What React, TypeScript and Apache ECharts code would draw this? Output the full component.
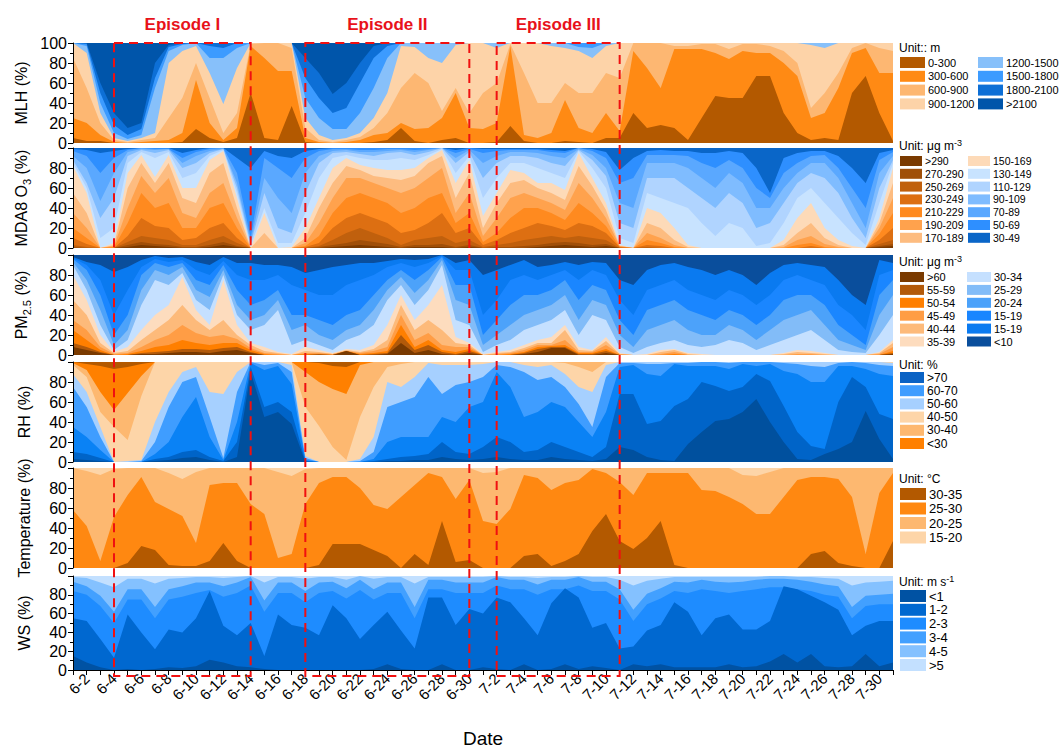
import React, { useEffect, useRef } from "react";
import * as echarts from "echarts";

const FONT = "Liberation Sans, Arial, sans-serif";

const dates = [
  "6-1","6-2","6-3","6-4","6-5","6-6","6-7","6-8","6-9","6-10",
  "6-11","6-12","6-13","6-14","6-15","6-16","6-17","6-18","6-19","6-20",
  "6-21","6-22","6-23","6-24","6-25","6-26","6-27","6-28","6-29","6-30",
  "7-1","7-2","7-3","7-4","7-5","7-6","7-7","7-8","7-9","7-10",
  "7-11","7-12","7-13","7-14","7-15","7-16","7-17","7-18","7-19","7-20",
  "7-21","7-22","7-23","7-24","7-25","7-26","7-27","7-28","7-29","7-30",
  "7-31",
];

const episodeNames = ["Episode I", "Episode II", "Episode III"];
const episodeStart = ["6-4", "6-18", "7-2"];
const episodeEnd = ["6-14", "6-30", "7-11"];

// ---------- MLH: cumulative share (%) of days below each class top ----------
const mlhLabels = ["0-300","300-600","600-900","900-1200","1200-1500","1500-1800","1800-2100",">2100"];
const mlhColors = ["#B35900","#FF8A14","#FDB772","#FDD3A8","#87C0FA","#3C9BFF","#0D6FD6","#0055AA"];
const mlhTo300 = [5,2,2,0,0,0,0,0,1,14, 5,1,5,50,5,3,37,1,0,0, 0,0,1,3,15,2,0,3,5,0, 0,1,17,2,0,0,2,1,0,5, 5,30,15,18,15,3,25,47,45,45, 67,67,30,10,3,5,3,50,67,30, 2];
const mlhTo600 = [25,20,8,1,0,1,2,3,10,63, 20,3,15,97,85,72,72,5,1,0, 1,3,8,10,20,14,15,25,50,15, 14,20,97,8,5,10,43,15,10,30, 12,92,75,55,94,94,94,90,84,92, 90,90,80,67,25,30,55,90,95,70, 70];
const mlhTo900 = [85,55,20,3,1,3,5,25,45,80, 45,10,30,99,100,100,95,15,3,1, 3,6,15,30,55,70,60,32,55,30, 50,60,99,70,40,40,60,50,50,70, 65,100,100,100,97,97,99,99,94,99, 99,97,92,80,35,50,70,95,100,95, 92];
const mlhTo1200 = [100,90,30,5,2,5,10,80,92,97, 70,39,75,100,100,100,100,25,8,3, 5,10,25,50,97,96,85,80,98,100, 100,95,100,100,100,97,95,92,85,97, 100,100,100,100,100,100,100,100,100,100, 100,100,100,100,98,95,100,100,100,100, 100];
const mlhTo1500 = [100,97,40,10,4,8,55,92,98,100, 85,85,95,100,100,100,100,45,25,14, 14,30,55,85,100,100,100,100,100,100, 100,100,100,100,100,100,100,96,95,100, 100,100,100,100,100,100,100,100,100,100, 100,100,100,100,100,100,100,100,100,100, 100];
const mlhTo1800 = [100,99,50,18,8,14,65,96,99,100, 97,95,100,100,100,100,100,65,45,30, 35,60,85,97,100,100,100,100,100,100, 100,100,100,100,100,100,100,100,100,100, 100,100,100,100,100,100,100,100,100,100, 100,100,100,100,100,100,100,100,100,100, 100];
const mlhTo2100 = [100,100,60,30,15,20,80,98,100,100, 100,100,100,100,100,100,100,85,70,49, 60,80,97,100,100,100,100,100,100,100, 100,100,100,100,100,100,100,100,100,100, 100,100,100,100,100,100,100,100,100,100, 100,100,100,100,100,100,100,100,100,100, 100];

// ---------- MDA8 O3 ----------
const o3Labels = [">290","270-290","250-269","230-249","210-229","190-209","170-189","150-169","130-149","110-129","90-109","70-89","50-69","30-49"];
const o3Colors = ["#7A3A00","#A04F08","#C0600D","#DD6F12","#FF8A1F","#FFA24D","#FDBC80","#FDDAB8","#C8E3FF","#B0D4FF","#7FBCFF","#5AA8FF","#2E8FFF","#0A66C8"];
const o3B1 = [0,0,0,0,1,3,2,1,0,0, 1,3,1,0,0,0,0,0,0,1, 2,3,2,1,0,1,1,1,0,1, 0,0,0,0,1,2,3,2,1,2, 0,0,0,0,0,0,0,0,0,0, 0,0,0,0,0,0,0,0,0,1, 2];
const o3B2 = [1,0,0,0,3,6,4,3,1,1, 3,6,2,0,0,0,0,0,1,3, 5,8,6,4,1,3,3,4,1,3, 0,1,1,2,3,5,6,5,3,4, 0,0,0,0,0,0,0,0,0,0, 0,0,0,0,0,0,0,0,0,2, 4];
const o3B3 = [3,1,0,0,6,12,10,8,3,3, 8,12,5,0,0,0,0,0,2,8, 15,20,15,10,3,8,10,12,5,8, 1,3,5,8,10,12,10,12,10,8, 0,0,1,0,0,0,0,0,0,0, 0,0,0,0,0,0,0,0,0,4, 8];
const o3B4 = [10,4,0,0,12,30,22,20,8,10, 20,25,10,0,0,0,0,1,5,20, 30,35,30,25,15,18,25,35,15,20, 3,8,15,20,25,22,18,25,22,15, 1,0,3,2,0,0,0,0,0,0, 0,0,0,0,2,0,0,0,0,8, 20];
const o3B5 = [20,10,0,1,25,55,40,45,20,20, 40,45,20,0,0,0,0,2,12,35, 50,55,50,45,35,40,50,55,25,35, 6,15,30,40,40,35,28,45,35,22, 1,0,8,5,1,0,0,0,0,0, 0,0,0,3,5,1,0,0,0,14, 35];
const o3B6 = [35,20,0,2,40,72,55,70,35,30, 55,65,30,0,0,0,0,5,25,50, 70,70,65,60,55,60,70,80,35,55, 12,30,50,55,50,45,38,65,50,30, 2,0,15,10,3,0,0,0,0,0, 0,0,1,8,12,4,1,0,0,20, 50];
const o3B7 = [55,35,0,3,60,85,65,85,50,45, 75,85,40,0,15,0,0,10,40,65, 82,78,72,70,68,72,85,92,50,75, 20,45,65,68,60,55,48,82,62,38, 2,0,25,20,8,1,0,0,0,0, 0,0,3,15,25,10,3,0,0,25, 65];
const o3B8 = [82,55,0,5,75,93,71,93,60,60, 88,97,50,0,35,0,1,20,50,80, 90,83,80,78,78,80,90,98,65,88, 32,55,78,75,65,65,58,95,70,45, 3,0,40,35,20,3,0,0,0,0, 0,0,8,30,45,20,8,2,0,30, 80];
const o3B9 = [85,60,10,20,85,96,90,96,70,75, 92,98,55,2,40,5,5,35,70,90, 93,90,88,88,90,88,93,99,75,92, 50,70,85,85,80,75,70,97,80,60, 10,5,55,50,45,40,25,12,25,20, 2,5,25,50,60,45,30,15,3,45, 85];
const o3B10 = [88,65,30,50,92,98,95,98,80,85, 95,99,60,4,55,20,15,55,85,95, 96,94,92,95,96,93,96,100,85,96, 70,85,92,92,90,85,82,98,88,72, 25,20,70,70,70,60,50,40,55,45, 20,25,45,65,75,70,55,30,10,60, 88];
const o3B11 = [92,80,47,75,96,99,98,99,85,92, 97,99,65,6,70,50,35,75,92,97, 98,96,96,97,98,96,98,100,90,98, 85,92,96,96,95,92,90,99,93,80, 45,40,85,85,85,80,70,60,75,65, 40,40,60,75,85,85,70,45,20,75, 92];
const o3B12 = [97,92,75,90,98,100,99,99,90,96, 99,100,75,10,90,80,70,90,97,99, 99,98,98,99,99,98,99,100,95,99, 95,97,98,98,98,96,95,100,97,90, 65,70,93,93,93,92,85,80,88,80, 60,50,75,85,92,93,80,60,40,88, 96];
const o3B13 = [99,98,95,97,99,100,100,100,95,98, 100,100,90,80,97,92,90,97,99,100, 100,100,100,100,100,100,100,100,98,100, 99,99,99,99,99,98,97,100,99,96, 78,90,97,98,97,97,95,95,97,95, 80,55,90,95,97,97,92,80,65,95, 98];

// ---------- PM2.5 ----------
const pmLabels = [">60","55-59","50-54","45-49","40-44","35-39","30-34","25-29","20-24","15-19","15-19","<10"];
const pmColors = ["#7A3A00","#B35A0A","#FF7F00","#FF9D45","#FDBA7A","#FDDCBE","#C5E0FF","#82BCF8","#4CA2FA","#1A86FF","#0A7AF0","#0A4E9C"];
const pmB1 = [8,5,2,0,0,1,1,2,3,3, 2,4,5,2,0,0,0,0,0,0, 4,0,0,1,12,2,5,1,0,2, 0,0,0,1,3,7,7,0,0,2, 0,0,0,0,0,0,0,0,0,0, 0,0,0,0,0,0,0,0,0,0, 1];
const pmB2 = [12,8,3,0,0,2,3,4,6,6, 5,7,8,3,0,0,0,0,1,0, 4,0,1,2,20,5,10,3,1,4, 0,0,0,2,6,8,8,1,1,4, 0,0,0,0,0,0,0,0,0,0, 0,0,0,0,0,0,0,0,0,0, 2];
const pmB3 = [25,15,5,0,1,4,8,10,15,12, 10,12,12,5,1,0,0,1,1,0, 4,1,2,4,30,8,15,5,3,6, 0,0,1,3,8,9,10,2,2,6, 0,0,0,0,1,0,0,0,0,0, 0,0,0,0,0,0,0,0,0,0, 4];
const pmB4 = [35,25,8,1,2,8,15,20,30,22, 18,20,16,7,2,1,0,2,2,1, 4,2,4,8,40,15,22,10,8,8, 0,1,2,5,10,10,15,3,3,10, 1,0,0,1,3,0,0,0,0,0, 0,0,0,1,1,0,0,0,0,1, 8];
const pmB5 = [55,40,12,2,4,15,25,35,50,35, 25,35,20,10,4,2,0,4,3,1, 5,3,6,15,50,25,35,25,12,10, 0,2,3,7,12,12,25,5,4,14, 1,0,0,3,5,1,0,0,0,0, 0,0,1,3,2,1,0,0,0,2, 12];
const pmB6 = [80,55,20,3,8,25,40,50,78,45, 30,75,30,12,8,3,1,8,5,2, 6,5,10,30,60,35,50,70,18,12, 1,3,5,10,15,18,30,8,5,18, 2,0,1,5,6,2,1,0,0,0, 0,0,2,5,4,2,0,0,0,3, 15];
const pmB7 = [90,65,30,5,15,50,75,70,82,55, 45,80,40,25,30,45,10,15,10,5, 15,20,30,55,70,50,65,90,35,30, 3,10,15,25,30,35,45,20,40,35, 8,2,8,12,15,10,8,10,15,12, 5,10,15,20,25,15,5,3,2,20, 40];
const pmB8 = [93,75,45,10,25,65,85,80,88,65, 58,85,50,35,40,55,25,30,20,15, 25,30,45,65,78,62,75,95,55,50, 10,20,30,40,45,50,60,35,55,50, 20,8,25,30,35,25,20,20,30,25, 15,25,35,40,45,30,15,10,5,40, 60];
const pmB9 = [96,85,60,20,40,80,92,88,92,75, 70,90,65,50,55,65,40,40,35,30, 40,45,60,75,85,75,85,98,70,70, 20,35,50,60,60,65,75,55,70,65, 35,20,45,50,55,45,40,35,45,40, 30,40,55,60,60,50,30,20,10,60, 75];
const pmB10 = [97,90,75,40,65,88,96,93,95,85, 80,94,80,75,75,80,70,65,60,60, 70,75,80,88,92,88,92,99,85,85, 40,55,75,80,75,80,85,75,85,80, 55,40,65,70,75,65,60,55,65,60, 50,60,75,80,75,70,50,40,25,80, 85];
const pmB11 = [98,93,90,83,88,95,99,97,98,93, 90,98,92,92,90,90,88,82,85,88, 90,92,92,94,96,95,96,100,92,95, 80,85,90,95,88,90,93,90,93,92, 75,70,85,90,92,88,85,80,85,80, 70,82,90,92,90,88,75,60,50,95, 92];

// ---------- RH ----------
const rhLegendLabels = [">70","60-70","50-60","40-50","30-40","<30"];
const rhLegendColors = ["#0A62C4","#3F9DFF","#A6D0FF","#FDD5A8","#FDB870","#FF8000"];
const rhColors = ["#00509E","#0064C8","#0A82F5","#3F9DFF","#A6D0FF","#FDD5A8","#FDB870","#FF8000","#B35900"];
const rhR1 = [3,2,1,0,0,0,1,2,4,5, 2,0,5,90,45,50,38,0,0,0, 0,0,0,1,1,2,2,5,3,2, 3,5,3,2,2,5,3,2,1,3, 15,12,5,2,1,18,30,41,43,50, 63,40,20,3,2,8,13,20,51,23, 3];
const rhR2 = [10,8,4,0,0,0,3,5,10,12, 5,1,20,95,55,60,50,1,0,0, 0,0,1,3,5,6,8,20,10,8, 15,25,20,10,12,20,15,10,5,15, 68,68,38,41,56,63,80,76,71,75, 88,81,56,30,16,13,60,85,75,48, 43];
const rhR3 = [35,25,12,0,0,0,8,20,45,65, 25,2,40,99,92,96,78,2,0,0, 0,0,3,20,25,25,25,45,40,55, 60,90,75,45,50,60,55,40,25,50, 95,97,88,86,98,96,96,96,93,98, 96,98,91,88,80,80,96,96,93,88, 86];
const rhR4 = [75,55,25,0,0,1,20,55,80,85, 45,4,70,100,97,99,90,4,0,0, 0,1,10,55,60,65,85,68,77,80, 85,97,95,90,82,85,75,58,35,85, 99,99,98,98,99,99,100,100,99,100, 100,100,99,98,96,95,99,100,99,97, 96];
const rhR5 = [88,70,35,0,1,2,40,70,90,95, 70,68,90,100,100,100,97,6,0,0, 0,3,25,80,75,85,99,97,97,97, 98,100,100,97,95,97,88,75,70,97, 100,100,100,100,100,100,100,100,100,100, 100,100,100,100,100,100,100,100,100,100, 99];
const rhR6 = [97,85,50,35,22,66,100,100,100,100, 100,100,100,100,100,100,100,55,36,15, 2,45,75,95,98,100,100,100,100,100, 100,100,100,100,100,100,99,95,90,100, 100,100,100,100,100,100,100,100,100,100, 100,100,100,100,100,100,100,100,100,100, 100];
const rhR7 = [99,92,70,52,69,86,100,100,100,100, 100,100,100,100,100,100,100,90,80,73, 68,97,100,100,100,100,100,100,100,100, 100,100,100,100,100,100,100,100,100,100, 100,100,100,100,100,100,100,100,100,100, 100,100,100,100,100,100,100,100,100,100, 100];
const rhR8 = [100,98,96,93,95,98,100,100,100,100, 100,100,100,100,100,100,100,100,99,96, 95,100,100,100,100,100,100,100,100,100, 100,100,100,100,100,100,100,100,100,100, 100,100,100,100,100,100,100,100,100,100, 100,100,100,100,100,100,100,100,100,100, 100];

// ---------- Temperature ----------
const tLabels = ["30-35","25-30","20-25","15-20"];
const tColors = ["#B35900","#FF8811","#FDB870","#FDD5A8"];
const t30 = [0,0,0,0,5,22,18,3,2,2, 7,25,7,0,0,0,0,0,3,24, 24,24,18,12,0,14,3,47,6,8, 0,0,0,12,14,2,7,14,37,54, 27,19,30,47,3,0,0,0,0,0, 0,0,0,0,14,17,5,2,0,0, 27];
const t25 = [58,42,7,51,73,91,66,59,52,25, 83,85,85,64,54,10,14,64,85,91, 91,80,63,59,71,83,95,91,69,88, 47,44,59,93,90,78,85,88,99,95, 86,73,95,95,95,95,78,77,71,64, 54,54,71,88,91,91,89,71,14,75, 95];
const t20 = [100,97,93,99,100,100,100,95,89,96, 100,100,100,100,100,96,92,99,100,100, 100,100,100,100,100,100,100,100,100,100, 95,96,100,100,100,100,100,100,100,100, 100,100,100,100,100,100,100,100,100,93, 92,96,100,100,100,100,100,100,100,100, 100];

// ---------- WS ----------
const wsLabels = ["<1","1-2","2-3","3-4","4-5",">5"];
const wsColors = ["#0052A3","#0068D0","#1E8CFF","#42A0FF","#84C1FF","#C3E0FF"];
const ws1 = [15,8,3,0,1,0,1,3,2,4, 11,8,4,3,1,0,0,0,0,0, 0,0,1,6,1,0,0,6,0,0, 3,1,0,6,0,1,6,1,4,2, 0,6,4,6,3,3,3,3,6,3, 4,9,17,8,17,4,3,4,17,4, 8];
const ws2 = [55,52,33,13,59,40,22,43,40,55, 84,47,37,50,15,59,48,45,37,69, 55,33,48,62,42,23,77,77,48,65, 60,77,72,55,37,71,87,77,45,50, 23,25,42,48,72,62,37,55,59,43, 43,52,89,86,79,72,64,37,47,52, 52];
const ws3 = [84,80,68,50,75,75,55,75,78,82, 85,78,82,90,62,82,82,72,82,84, 76,85,75,82,82,55,86,86,82,82, 82,90,86,86,80,86,86,90,84,84, 75,52,70,76,84,82,86,84,82,84, 86,88,88,86,84,80,78,55,68,70, 70];
const ws4 = [94,89,79,62,86,86,67,86,89,93, 93,89,93,99,74,93,93,84,93,94, 87,96,86,93,93,67,96,96,93,93, 93,99,96,96,91,96,96,99,94,94, 86,64,81,87,94,93,96,94,93,94, 96,97,97,96,94,91,89,67,79,80, 81];
const ws5 = [99,98,93,88,97,97,92,97,98,99, 99,98,99,100,93,99,99,97,99,99, 96,100,97,99,99,92,99,99,99,99, 99,100,99,99,98,99,99,100,99,99, 96,90,95,97,99,99,99,99,99,99, 99,100,100,99,99,98,97,90,93,94, 95];

const GRID_TOPS = [43, 148, 255, 362, 468, 576];
const GRID_H = 100;
const GRID_LEFT = 73;
const GRID_RIGHT = 166;

type LegendSpec = {
  title: string; titleY: number; rowTop: number; pitch: number;
  rectW: number; rectH: number; col2X: number; perCol: number; fontSize: number;
};

const panels = [
  {
    yName: "MLH (%)", colors: mlhColors,
    cum: [mlhTo300, mlhTo600, mlhTo900, mlhTo1200, mlhTo1500, mlhTo1800, mlhTo2100],
    legendLabels: mlhLabels, legendColors: mlhColors,
    legend: { title: "{a|Unit:: m}", titleY: 48, rowTop: 57, pitch: 13.8, rectW: 25, rectH: 11, col2X: 978, perCol: 4, fontSize: 11 } as LegendSpec,
    showMax: true,
  },
  {
    yName: "{n|MDA8 O}{s|3}{n| (%)}", colors: o3Colors,
    cum: [o3B1, o3B2, o3B3, o3B4, o3B5, o3B6, o3B7, o3B8, o3B9, o3B10, o3B11, o3B12, o3B13],
    legendLabels: o3Labels, legendColors: o3Colors,
    legend: { title: "{a|Unit: μg m}{p|-3}", titleY: 146, rowTop: 156, pitch: 12.8, rectW: 22, rectH: 10, col2X: 968, perCol: 7, fontSize: 10.5 } as LegendSpec,
    showMax: false,
  },
  {
    yName: "{n|PM}{s|2.5}{n| (%)}", colors: pmColors,
    cum: [pmB1, pmB2, pmB3, pmB4, pmB5, pmB6, pmB7, pmB8, pmB9, pmB10, pmB11],
    legendLabels: pmLabels, legendColors: pmColors,
    legend: { title: "{a|Unit: μg m}{p|-3}", titleY: 262, rowTop: 272, pitch: 12.9, rectW: 24, rectH: 10, col2X: 967, perCol: 6, fontSize: 11 } as LegendSpec,
    showMax: false,
  },
  {
    yName: "RH (%)", colors: rhColors,
    cum: [rhR1, rhR2, rhR3, rhR4, rhR5, rhR6, rhR7, rhR8],
    legendLabels: rhLegendLabels, legendColors: rhLegendColors,
    legend: { title: "{a|Unit: %}", titleY: 365, rowTop: 372, pitch: 13.2, rectW: 24, rectH: 11, col2X: 0, perCol: 6, fontSize: 12 } as LegendSpec,
    showMax: false,
  },
  {
    yName: "Temperature (%)", colors: tColors,
    cum: [t30, t25, t20],
    legendLabels: tLabels, legendColors: tColors,
    legend: { title: "{a|Unit: °C}", titleY: 479, rowTop: 488, pitch: 14.5, rectW: 26, rectH: 12, col2X: 0, perCol: 4, fontSize: 13 } as LegendSpec,
    showMax: false,
  },
  {
    yName: "WS (%)", colors: wsColors,
    cum: [ws1, ws2, ws3, ws4, ws5],
    legendLabels: wsLabels, legendColors: wsColors,
    legend: { title: "{a|Unit: m s}{p|-1}", titleY: 582, rowTop: 590, pitch: 13.8, rectW: 26, rectH: 12, col2X: 0, perCol: 6, fontSize: 13 } as LegendSpec,
    showMax: false,
  },
];

function legendGraphics(spec: LegendSpec, labels: string[], colors: string[]) {
  const els: any[] = [];
  els.push({
    type: "text", x: 899, y: spec.titleY, z: 100,
    style: {
      text: spec.title, fill: "#000", fontFamily: FONT, fontSize: 12,
      verticalAlign: "middle", textVerticalAlign: "middle",
      rich: {
        a: { fontSize: 12, lineHeight: 16, fontFamily: FONT, fill: "#000" },
        p: { fontSize: 9, lineHeight: 9, verticalAlign: "top", fontFamily: FONT, fill: "#000" },
      },
    },
  });
  labels.forEach((lab, i) => {
    const col = Math.floor(i / spec.perCol);
    const row = i % spec.perCol;
    const x = col === 0 ? 900 : spec.col2X;
    const y = spec.rowTop + row * spec.pitch;
    els.push({ type: "rect", z: 100, shape: { x, y, width: spec.rectW, height: spec.rectH }, style: { fill: colors[i] } });
    els.push({
      type: "text", z: 100, x: x + spec.rectW + 3, y: y + spec.rectH / 2,
      style: { text: lab, fill: "#000", fontFamily: FONT, fontSize: spec.fontSize, verticalAlign: "middle", textVerticalAlign: "middle" },
    });
  });
  return els;
}

export default function App() {
  const ref = useRef<HTMLDivElement>(null);
  useEffect(() => {
    if (!ref.current) return;
    const chart = echarts.init(ref.current, undefined, { renderer: "svg" });
    const grids: any[] = [];
    const xAxes: any[] = [];
    const yAxes: any[] = [];
    const series: any[] = [];
    panels.forEach((p, pi) => {
      grids.push({
        left: GRID_LEFT, right: GRID_RIGHT, top: GRID_TOPS[pi], height: GRID_H,
        show: true, backgroundColor: p.colors[p.colors.length - 1], borderWidth: 0,
      });
      const last = pi === panels.length - 1;
      xAxes.push({
        type: "category", gridIndex: pi, data: dates, boundaryGap: false,
        show: true,
        axisLine: { show: last, lineStyle: { color: "#000", width: 1 } },
        axisTick: { show: last, interval: 0, length: 5, lineStyle: { color: "#000" } },
        axisLabel: {
          show: last, interval: (idx: number) => idx % 2 === 1, rotate: 45,
          fontSize: 15, color: "#000", fontFamily: FONT, margin: 6,
        },
        splitLine: { show: false },
        name: last ? "Date" : "", nameLocation: "middle", nameGap: 59,
        nameTextStyle: { fontSize: 19, color: "#000", fontFamily: FONT },
        z: 10,
      });
      yAxes.push({
        type: "value", gridIndex: pi, min: 0, max: 100, interval: 20,
        axisLine: { show: true, lineStyle: { color: "#000", width: 1 } },
        axisTick: { show: true, length: 5, lineStyle: { color: "#000" } },
        minorTick: { show: true, splitNumber: 2, length: 3, lineStyle: { color: "#000" } },
        splitLine: { show: false },
        axisLabel: { fontSize: 16, color: "#000", fontFamily: FONT, margin: 6, showMaxLabel: p.showMax },
        name: p.yName, nameLocation: "middle", nameGap: 41, nameRotate: 90,
        nameTextStyle: {
          fontSize: 16, color: "#000", fontFamily: FONT,
          rich: {
            n: { fontSize: 16, lineHeight: 22, fontFamily: FONT, color: "#000" },
            s: { fontSize: 11, lineHeight: 11, verticalAlign: "bottom", fontFamily: FONT, color: "#000" },
          },
        },
        z: 10,
      });
      for (let k = p.cum.length - 1; k >= 0; k--) {
        series.push({
          type: "line", xAxisIndex: pi, yAxisIndex: pi, data: p.cum[k],
          symbol: "none", showSymbol: false, silent: true,
          lineStyle: { width: 0 },
          areaStyle: { color: p.colors[k], opacity: 1 },
          z: 2,
        });
      }
    });

    chart.setOption({
      animation: false,
      textStyle: { fontFamily: FONT },
      grid: grids, xAxis: xAxes, yAxis: yAxes, series,
    });

    const gEls: any[] = [];
    const yTop = GRID_TOPS[0];
    const yBot = GRID_TOPS[GRID_TOPS.length - 1] + GRID_H;
    episodeNames.forEach((name, i) => {
      const x1 = chart.convertToPixel({ xAxisIndex: 0 }, episodeStart[i]) as number;
      const x2 = chart.convertToPixel({ xAxisIndex: 0 }, episodeEnd[i]) as number;
      gEls.push({
        type: "rect", z: 200, shape: { x: x1, y: yTop, width: x2 - x1, height: yBot - yTop },
        style: { fill: "none", stroke: "#F01010", lineWidth: 2, lineDash: [9, 6] },
      });
      gEls.push({
        type: "text", z: 200, x: (x1 + x2) / 2, y: 24,
        style: {
          text: name, fill: "#E8121A", fontFamily: FONT, fontSize: 17, fontWeight: "bold",
          align: "center", textAlign: "center", verticalAlign: "middle", textVerticalAlign: "middle",
        },
      });
    });
    panels.forEach((p) => {
      gEls.push(...legendGraphics(p.legend, p.legendLabels, p.legendColors));
    });
    chart.setOption({ graphic: gEls });

    return () => chart.dispose();
  }, []);
  return (
    <div style={{ position: "absolute", left: 0, top: 0, width: 1059, height: 749, background: "#fff" }}>
      <div ref={ref} style={{ width: 1059, height: 749 }} />
    </div>
  );
}
